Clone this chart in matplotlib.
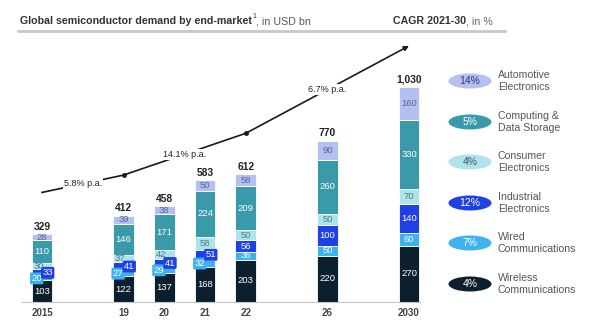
import matplotlib
matplotlib.use("Agg")
import matplotlib.pyplot as plt
from matplotlib.patches import Ellipse
import numpy as np

plt.rcParams['font.family'] = ['Liberation Sans', 'DejaVu Sans']

# data
years = ["2015", "19", "20", "21", "22", "26", "2030"]
year_pos = [0, 2, 3, 4, 5, 7, 9]
segments = ["Wireless\nCommunications", "Wired\nCommunications", "Industrial\nElectronics",
            "Consumer\nElectronics", "Computing &\nData Storage", "Automotive\nElectronics"]
wireless = [103, 122, 137, 168, 203, 220, 270]
wired = [20, 27, 29, 32, 36, 50, 60]
industrial = [33, 41, 41, 51, 56, 100, 140]
consumer = [30, 37, 42, 58, 50, 50, 70]
computing = [110, 146, 171, 224, 209, 260, 330]
automotive = [28, 39, 38, 50, 58, 90, 160]
totals = [329, 412, 458, 583, 612, 770, 1030]
cagr = ["4%", "7%", "12%", "4%", "5%", "14%"]
trend_years = ["2015", "19", "22", "2030"]
trend_labels = ["5.8% p.a.", "14.1% p.a.", "6.7% p.a."]

series = [wireless, wired, industrial, consumer, computing, automotive]
colors = ["#0c1f2e", "#3cb2ee", "#1f40e4", "#afe3ec", "#3a9aa9", "#b5c0f2"]
text_colors = ["white", "white", "white", "#4a7f88", "white", "#55649a"]
pill_text = ["white", "white", "white", "#3d5560", "white", "#2c3a70"]

fig = plt.figure(figsize=(6.02, 3.34), dpi=100)
ax = fig.add_axes([22 / 602, 32 / 334, 398 / 602, 262 / 334])
ax.set_xlim(-0.49, 9.27)
ax.set_ylim(0, 1253)

bottom = np.zeros(len(years))
for i, vals in enumerate(series):
    ax.bar(year_pos, vals, width=0.51, bottom=bottom, color=colors[i],
           edgecolor="white", linewidth=0.6, zorder=2)
    for j, v in enumerate(vals):
        dx = 0
        box = None
        # small segments in early bars: labels pushed aside on little tags
        if j < 4 and i == 1:
            dx = -0.13
            box = dict(boxstyle="round,pad=0.15", fc=colors[i], ec="none")
        elif j < 4 and i == 2:
            dx = 0.14
            box = dict(boxstyle="round,pad=0.15", fc=colors[i], ec="none")
        elif j < 3 and i == 3:
            dx = -0.08
        ax.text(year_pos[j] + dx, bottom[j] + v / 2, str(v), ha="center", va="center",
                fontsize=6.8, color=text_colors[i], bbox=box, zorder=4)
    bottom += np.array(vals)

for j, t in enumerate(totals):
    ax.text(year_pos[j], bottom[j] + 12, str(t) if t < 1000 else f"{t:,}",
            ha="center", va="bottom", fontsize=7.4, fontweight="bold", color="#222222")

# trend arrow, drawn a fixed distance above the bar totals
trend_offset = 195
tx = [year_pos[years.index(y)] for y in trend_years]
ty = [totals[years.index(y)] + trend_offset for y in trend_years]
ax.plot(tx[:3], ty[:3], color="#1a1a1a", lw=1.2, zorder=3, clip_on=False)
ax.plot(tx[1:3], ty[1:3], "o", color="#1a1a1a", ms=2.5, zorder=3)
ax.annotate("", xy=(tx[3], ty[3]), xytext=(tx[2], ty[2]),
            arrowprops=dict(arrowstyle="-|>", lw=1.2, color="#1a1a1a",
                            mutation_scale=7, shrinkA=0, shrinkB=0), zorder=3)
for k, lab in enumerate(trend_labels):
    ax.text((tx[k] + tx[k + 1]) / 2, (ty[k] + ty[k + 1]) / 2, lab, ha="center",
            va="center", fontsize=6.5, color="#222222", zorder=5,
            bbox=dict(boxstyle="square,pad=0.1", fc="white", ec="none"))

for s in ["top", "right", "left"]:
    ax.spines[s].set_visible(False)
ax.spines["bottom"].set_color("#c4c4c4")
ax.set_yticks([])
ax.set_xticks(year_pos)
ax.set_xticklabels(years, fontsize=7, fontweight="bold", color="#444444")
ax.tick_params(axis="x", length=0, pad=4)

# header and legend in pixel coordinates
ov = fig.add_axes([0, 0, 1, 1], zorder=-1)
ov.set_xlim(0, 602)
ov.set_ylim(334, 0)
ov.axis("off")
ov.plot([18, 505], [31, 31], color="#c8c8c8", lw=2)

t1 = ov.text(20, 21, "Global semiconductor demand by end-market", fontsize=7.7,
             fontweight="bold", color="#333333", va="center")
fig.canvas.draw()
inv = ov.transData.inverted()
x_end = inv.transform((t1.get_window_extent().x1, 0))[0]
t2 = ov.text(x_end + 0.5, 17, "1", fontsize=5, color="#333333", va="center")
fig.canvas.draw()
x_end = inv.transform((t2.get_window_extent().x1, 0))[0]
ov.text(x_end, 21, ", in USD bn", fontsize=7.7, color="#555555", va="center")

t3 = ov.text(493, 21, ", in %", fontsize=7.7, color="#666666", va="center", ha="right")
fig.canvas.draw()
x_start = inv.transform((t3.get_window_extent().x0, 0))[0]
ov.text(x_start, 21, "CAGR 2021-30", fontsize=7.7, fontweight="bold",
        color="#333333", va="center", ha="right")

row_y = [284, 243, 203, 162, 122, 81]
for i in range(len(segments)):
    ov.add_patch(Ellipse((470, row_y[i]), 43, 15, fc=colors[i], ec="none"))
    ov.text(470, row_y[i], cagr[i], ha="center", va="center", fontsize=7.5,
            color=pill_text[i])
    ov.text(498, row_y[i], segments[i], ha="left", va="center", fontsize=7.6,
            color="#555555", linespacing=1.15)

fig.savefig("out.png", dpi=100)
